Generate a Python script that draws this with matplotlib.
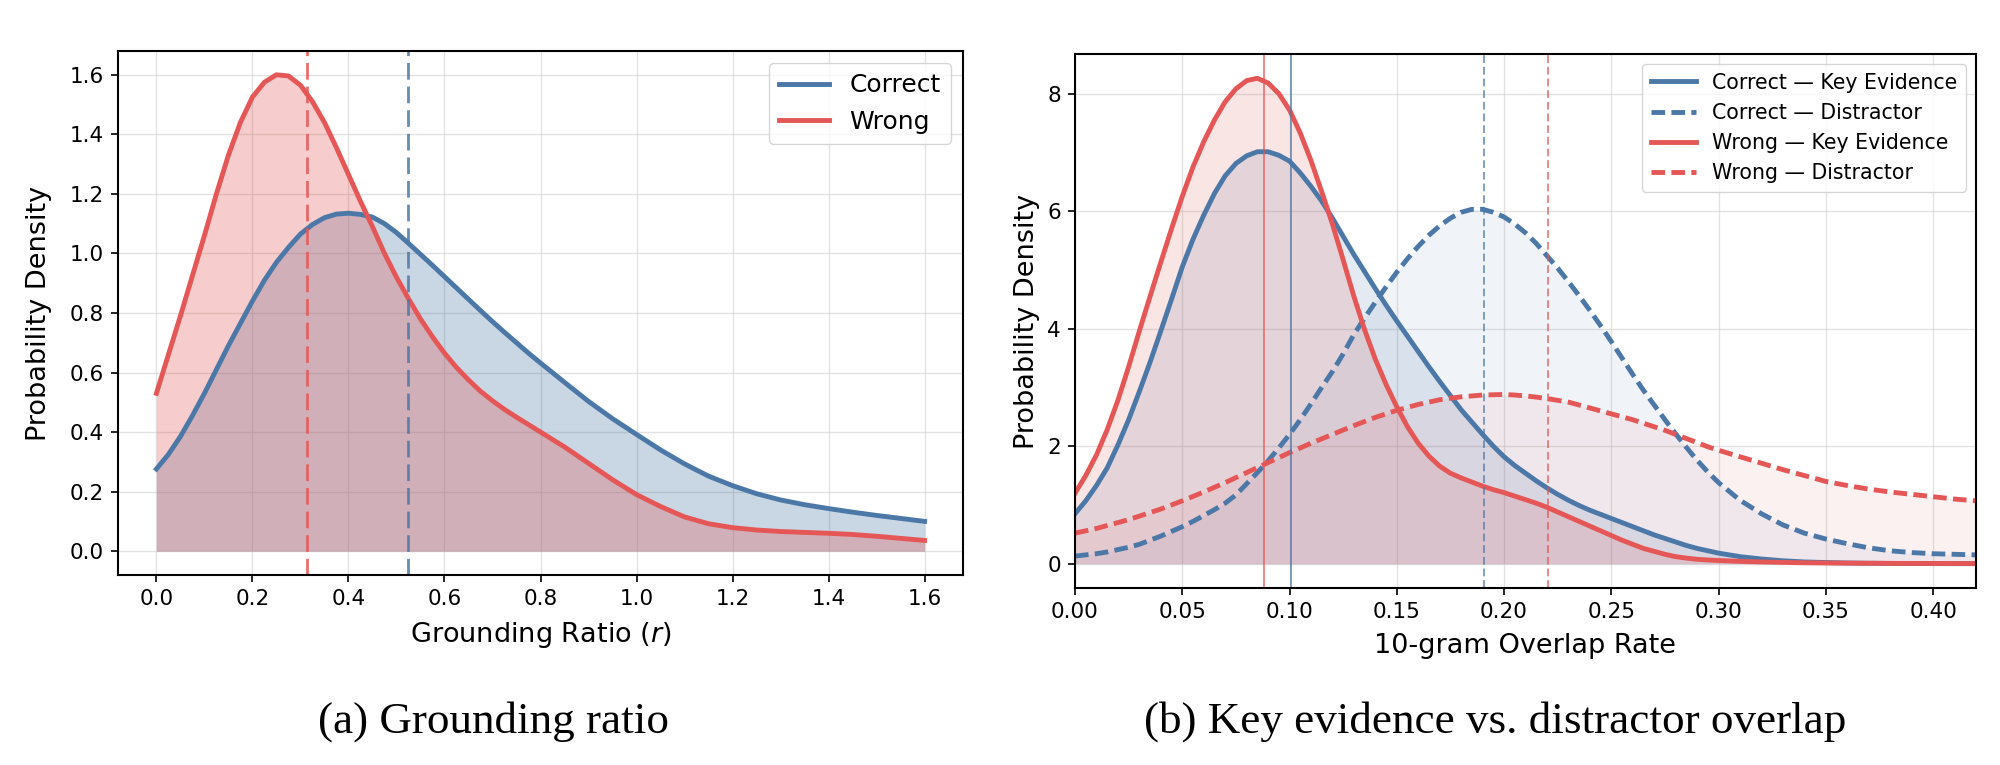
import numpy as np
import matplotlib
matplotlib.use("Agg")
import matplotlib.pyplot as plt

# colours
BLUE = "#4C78A8"
RED = "#E45756"

# ---- (a) grounding ratio densities ----
r_x = [0.000, 0.025, 0.050, 0.075, 0.100, 0.125, 0.150, 0.175, 0.200, 0.225,
       0.250, 0.275, 0.300, 0.325, 0.350, 0.375, 0.400, 0.425, 0.450, 0.475,
       0.500, 0.525, 0.550, 0.575, 0.600, 0.625, 0.650, 0.675, 0.700, 0.725,
       0.750, 0.775, 0.800, 0.85, 0.90, 0.95, 1.00, 1.05, 1.10, 1.15, 1.20,
       1.25, 1.30, 1.35, 1.40, 1.45, 1.50, 1.55, 1.60]
correct_r = [0.276, 0.325, 0.385, 0.455, 0.53, 0.61, 0.69, 0.765, 0.84, 0.91,
             0.97, 1.02, 1.065, 1.097, 1.12, 1.132, 1.135, 1.131, 1.122, 1.10,
             1.07, 1.034, 0.997, 0.960, 0.922, 0.884, 0.846, 0.808, 0.771, 0.735,
             0.700, 0.665, 0.632, 0.567, 0.503, 0.445, 0.392, 0.34, 0.293, 0.252, 0.22,
             0.193, 0.172, 0.156, 0.143, 0.131, 0.12, 0.11, 0.10]
wrong_r = [0.53, 0.66, 0.79, 0.925, 1.06, 1.20, 1.33, 1.44, 1.525, 1.575,
           1.600, 1.596, 1.565, 1.51, 1.44, 1.355, 1.265, 1.175, 1.09, 1.00,
           0.92, 0.848, 0.78, 0.72, 0.665, 0.617, 0.575, 0.537, 0.505, 0.476,
           0.45, 0.425, 0.40, 0.35, 0.295, 0.24, 0.19, 0.15, 0.115, 0.092, 0.079,
           0.071, 0.066, 0.063, 0.060, 0.056, 0.050, 0.043, 0.036]
median_correct_r = 0.5235
median_wrong_r = 0.314

# ---- (b) 10-gram overlap densities ----
o_x = [0.000, 0.005, 0.010, 0.015, 0.020, 0.025, 0.030, 0.035, 0.040, 0.045,
       0.050, 0.055, 0.060, 0.065, 0.070, 0.075, 0.080, 0.085, 0.090, 0.095,
       0.100, 0.105, 0.110, 0.115, 0.120, 0.125, 0.130, 0.135, 0.140, 0.145,
       0.150, 0.155, 0.160, 0.165, 0.170, 0.175, 0.180, 0.185, 0.190, 0.195,
       0.200, 0.205, 0.210, 0.215, 0.220, 0.225, 0.230, 0.235, 0.240, 0.245,
       0.250, 0.255, 0.260, 0.265, 0.270, 0.275, 0.280, 0.285, 0.290, 0.295,
       0.300, 0.31, 0.32, 0.33, 0.34, 0.35, 0.36, 0.37, 0.38, 0.39, 0.40, 0.41, 0.42]
correct_key = [0.85, 1.07, 1.33, 1.63, 2.02, 2.45, 2.93, 3.43, 3.96, 4.50,
               5.05, 5.52, 5.93, 6.30, 6.60, 6.81, 6.94, 7.01, 7.01, 6.95,
               6.85, 6.65, 6.42, 6.17, 5.88, 5.57, 5.26, 4.97, 4.68, 4.40,
               4.13, 3.87, 3.61, 3.35, 3.10, 2.86, 2.62, 2.41, 2.20, 2.00,
               1.82, 1.67, 1.54, 1.41, 1.29, 1.18, 1.08, 0.99, 0.91, 0.84,
               0.77, 0.70, 0.63, 0.56, 0.49, 0.43, 0.37, 0.31, 0.26, 0.22,
               0.18, 0.12, 0.08, 0.05, 0.03, 0.02, 0.012, 0.008, 0.005, 0.003, 0.002, 0.001, 0.001]
correct_dis = [0.13, 0.15, 0.17, 0.20, 0.24, 0.28, 0.33, 0.40, 0.47, 0.55,
               0.63, 0.72, 0.82, 0.92, 1.03, 1.17, 1.36, 1.55, 1.75, 1.97,
               2.20, 2.45, 2.72, 3.00, 3.27, 3.57, 3.90, 4.18, 4.45, 4.71,
               4.96, 5.19, 5.40, 5.59, 5.75, 5.88, 5.98, 6.03, 6.03, 5.98,
               5.90, 5.78, 5.63, 5.45, 5.24, 5.03, 4.80, 4.56, 4.31, 4.05,
               3.78, 3.50, 3.22, 2.95, 2.70, 2.45, 2.21, 1.98, 1.76, 1.56,
               1.38, 1.08, 0.85, 0.66, 0.52, 0.42, 0.34, 0.27, 0.22, 0.19, 0.17, 0.16, 0.15]
wrong_key = [1.20, 1.50, 1.85, 2.28, 2.78, 3.35, 3.96, 4.55, 5.13, 5.70,
             6.25, 6.75, 7.18, 7.55, 7.86, 8.08, 8.22, 8.26, 8.18, 8.00,
             7.72, 7.33, 6.86, 6.33, 5.78, 5.17, 4.55, 3.98, 3.48, 3.05,
             2.67, 2.33, 2.05, 1.83, 1.66, 1.54, 1.46, 1.39, 1.32, 1.26,
             1.21, 1.15, 1.09, 1.03, 0.96, 0.88, 0.80, 0.72, 0.64, 0.56,
             0.48, 0.40, 0.33, 0.26, 0.21, 0.16, 0.12, 0.095, 0.075, 0.063,
             0.055, 0.04, 0.03, 0.022, 0.016, 0.012, 0.010, 0.008, 0.006, 0.005, 0.004, 0.003, 0.003]
wrong_dis = [0.52, 0.56, 0.60, 0.65, 0.70, 0.75, 0.81, 0.87, 0.93, 1.00,
             1.07, 1.145, 1.22, 1.30, 1.38, 1.465, 1.55, 1.635, 1.72, 1.805,
             1.89, 1.97, 2.05, 2.125, 2.20, 2.275, 2.35, 2.42, 2.49, 2.55,
             2.61, 2.66, 2.71, 2.75, 2.79, 2.815, 2.84, 2.855, 2.87, 2.875,
             2.88, 2.87, 2.855, 2.835, 2.81, 2.78, 2.75, 2.70, 2.65, 2.60,
             2.55, 2.50, 2.45, 2.39, 2.33, 2.27, 2.20, 2.13, 2.06, 1.99,
             1.93, 1.82, 1.71, 1.60, 1.50, 1.40, 1.33, 1.27, 1.22, 1.18, 1.14, 1.10, 1.07]
median_correct_key = 0.1005
median_wrong_key = 0.088
median_correct_dis = 0.1907
median_wrong_dis = 0.2205

TICK = 15.5
LABEL = 19.5

fig = plt.figure(figsize=(20, 7.65), dpi=100)
ax1 = fig.add_axes([0.059, 0.2484, 0.4225, 0.685])
ax2 = fig.add_axes([0.5375, 0.2314, 0.4505, 0.698])

# panel (a)
ax1.fill_between(r_x, 0, correct_r, color=BLUE, alpha=0.3, linewidth=0)
ax1.fill_between(r_x, 0, wrong_r, color=RED, alpha=0.3, linewidth=0)
ax1.plot(r_x, correct_r, color=BLUE, lw=3.5, label="Correct")
ax1.plot(r_x, wrong_r, color=RED, lw=3.5, label="Wrong")
ax1.axvline(median_correct_r, color=BLUE, lw=2, ls=(0, (6, 2.5)), alpha=0.85)
ax1.axvline(median_wrong_r, color=RED, lw=2, ls=(0, (6, 2.5)), alpha=0.85)
ax1.set_xticks(np.arange(0, 1.61, 0.2))
ax1.set_yticks(np.arange(0, 1.61, 0.2))
ax1.xaxis.set_major_formatter(matplotlib.ticker.FormatStrFormatter("%.1f"))
ax1.yaxis.set_major_formatter(matplotlib.ticker.FormatStrFormatter("%.1f"))
ax1.set_xlabel("Grounding Ratio ($r$)", fontsize=LABEL, labelpad=8)
ax1.set_ylabel("Probability Density", fontsize=LABEL)
ax1.legend(loc="upper right", fontsize=18)

# panel (b)
dash = (0, (2.8, 1.3))
ax2.fill_between(o_x, 0, correct_key, color=BLUE, alpha=0.15, linewidth=0)
ax2.plot(o_x, correct_key, color=BLUE, lw=3.5, label="Correct — Key Evidence")
ax2.fill_between(o_x, 0, correct_dis, color=BLUE, alpha=0.08, linewidth=0)
ax2.plot(o_x, correct_dis, color=BLUE, lw=3.5, ls=dash, label="Correct — Distractor")
ax2.fill_between(o_x, 0, wrong_key, color=RED, alpha=0.15, linewidth=0)
ax2.plot(o_x, wrong_key, color=RED, lw=3.5, label="Wrong — Key Evidence")
ax2.fill_between(o_x, 0, wrong_dis, color=RED, alpha=0.08, linewidth=0)
ax2.plot(o_x, wrong_dis, color=RED, lw=3.5, ls=dash, label="Wrong — Distractor")
ax2.axvline(median_correct_key, color=BLUE, lw=1.4, alpha=0.7)
ax2.axvline(median_wrong_key, color=RED, lw=1.4, alpha=0.7)
ax2.axvline(median_correct_dis, color=BLUE, lw=1.4, alpha=0.7, ls=(0, (4, 2)))
ax2.axvline(median_wrong_dis, color=RED, lw=1.4, alpha=0.7, ls=(0, (4, 2)))
ax2.set_xlim(0, 0.42)
ax2.set_xticks(np.arange(0, 0.41, 0.05))
ax2.set_yticks([0, 2, 4, 6, 8])
ax2.xaxis.set_major_formatter(matplotlib.ticker.FormatStrFormatter("%.2f"))
ax2.set_xlabel("10-gram Overlap Rate", fontsize=LABEL, labelpad=8)
ax2.set_ylabel("Probability Density", fontsize=LABEL)
ax2.legend(loc="upper right", fontsize=14.8, handlelength=2.2)

for ax in (ax1, ax2):
    ax.grid(True, color="#d0d0d0", alpha=0.6, lw=1.0)
    ax.set_axisbelow(True)
    ax.tick_params(labelsize=TICK, length=5, width=1.2, pad=5)
    for s in ax.spines.values():
        s.set_linewidth(1.5)

ax1.yaxis.set_label_coords(-0.078, 0.5)
ax2.yaxis.set_label_coords(-0.039, 0.5)

fig.text(0.247, 0.057, "(a) Grounding ratio", family="Liberation Serif",
         fontsize=32.5, ha="center", va="center")
fig.text(0.7475, 0.057, "(b) Key evidence vs. distractor overlap", family="Liberation Serif",
         fontsize=32.5, ha="center", va="center")

fig.savefig("out.png", dpi=100)
